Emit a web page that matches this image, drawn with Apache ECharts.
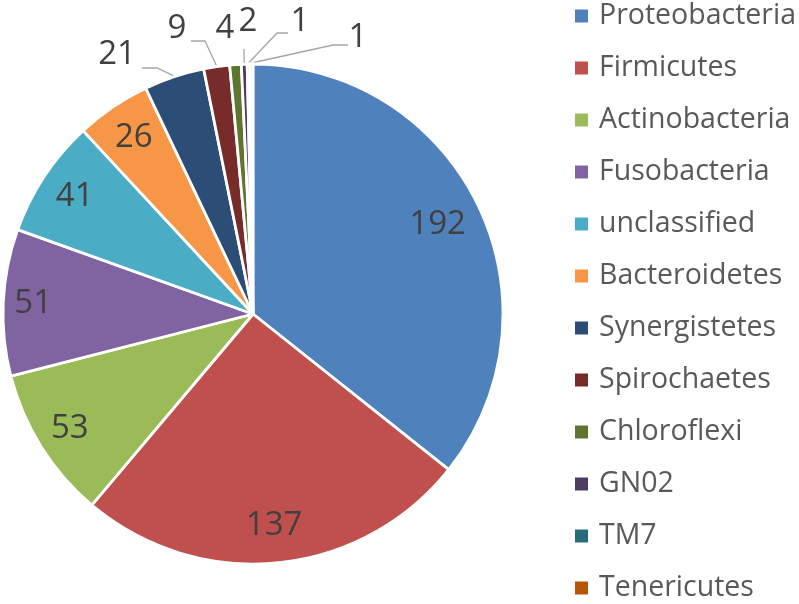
<!DOCTYPE html>
<html><head><meta charset="utf-8">
<script src="https://cdn.jsdelivr.net/npm/echarts@6/dist/echarts.min.js"></script>
<style>html,body{margin:0;padding:0;background:#fff}#c{width:799px;height:604px}</style>
</head><body><div id="c"></div>
<script>
// ---- data ----
const categories = ['Proteobacteria','Firmicutes','Actinobacteria','Fusobacteria','unclassified','Bacteroidetes','Synergistetes','Spirochaetes','Chloroflexi','GN02','TM7','Tenericutes'];
const values = [192,137,53,51,41,26,21,9,4,2,1,1];

// ---- styles / layout ----
const colors = ['#4F81BD','#C0504D','#9BBB59','#8064A2','#4BACC6','#F79646','#2C4D75','#772C2A','#5F7530','#4D3B62','#276A7C','#B65708'];
const PIE_CX = 253, PIE_CY = 314, PIE_R = 250;
const insideLabelRadius = [0.82, 0.85, 0.865, 0.88, 0.855, 0.85];
// outside label text centres and leader-line bends (label side)
const outsideLabelSpots = {
  6:  {x: 117, y: 55, line: [[142, 68], [157, 68]]},
  7:  {x: 177, y: 29, line: [[191, 41], [205, 41]]},
  8:  {x: 225, y: 29, line: null},
  9:  {x: 248, y: 22, line: [[244, 49], [244, 54]]},
  10: {x: 300, y: 22, line: [[288, 33], [277, 33]]},
  11: {x: 358, y: 38, line: [[348, 45], [333, 45]]}
};

const total = values.reduce((a, b) => a + b, 0);
const midAngles = [];
{ let cum = 0; values.forEach(v => { midAngles.push((cum + v / 2) / total * 2 * Math.PI); cum += v; }); }
function polar(i, r) {
  return [PIE_CX + r * Math.sin(midAngles[i]), PIE_CY - r * Math.cos(midAngles[i])];
}

const chart = echarts.init(document.getElementById('c'), null, {renderer: 'canvas'});
const FONT = '"Open Sans", "Noto Sans", sans-serif';
chart.setOption({
  animation: false,
  color: colors,
  legend: {
    orient: 'vertical',
    left: 573, top: 1,
    padding: 0,
    itemWidth: 15, itemHeight: 15,
    itemGap: 22,
    icon: 'rect',
    data: categories,
    textStyle: {fontFamily: FONT, fontSize: 28.5, lineHeight: 30, color: '#595959', padding: [0, 0, 0, 5]}
  },
  series: [{
    type: 'pie',
    center: [PIE_CX, PIE_CY],
    radius: PIE_R,
    startAngle: 90,
    clockwise: true,
    avoidLabelOverlap: false,
    itemStyle: {borderColor: '#fff', borderWidth: 2.8},
    label: {show: true, position: 'outside', fontFamily: FONT, fontSize: 33, color: '#404040', formatter: '{c}'},
    labelLine: {show: true, lineStyle: {color: '#A6A6A6', width: 1.3}},
    emphasis: {disabled: true},
    data: categories.map((name, i) => ({
      name: name, value: values[i],
      labelLine: {show: !!(outsideLabelSpots[i] && outsideLabelSpots[i].line)}
    })),
    labelLayout: function (p) {
      const i = p.dataIndex;
      if (i < insideLabelRadius.length) {
        const pt = polar(i, PIE_R * insideLabelRadius[i]);
        return {x: pt[0], y: pt[1], align: 'center', verticalAlign: 'middle'};
      }
      const s = outsideLabelSpots[i];
      const res = {x: s.x, y: s.y, align: 'center', verticalAlign: 'middle'};
      if (s.line) {
        const edge = polar(i, PIE_R + 1);
        res.labelLinePoints = [s.line[0], s.line[1], edge];
      }
      return res;
    }
  }]
});
</script></body></html>
